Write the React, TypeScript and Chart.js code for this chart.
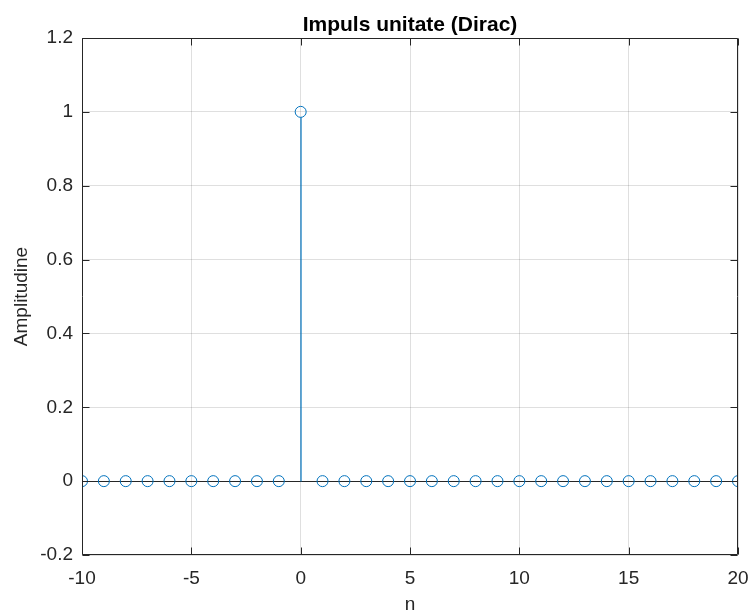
import React, { useEffect, useRef } from "react";
import { Chart, registerables } from "chart.js";

Chart.register(...registerables);

const nValues = [-10, -9, -8, -7, -6, -5, -4, -3, -2, -1, 0, 1, 2, 3, 4, 5, 6, 7, 8, 9, 10, 11, 12, 13, 14, 15, 16, 17, 18, 19, 20];
const amplitudes = [0, 0, 0, 0, 0, 0, 0, 0, 0, 0, 1, 0, 0, 0, 0, 0, 0, 0, 0, 0, 0, 0, 0, 0, 0, 0, 0, 0, 0, 0, 0];
const xTicks = [-10, -5, 0, 5, 10, 15, 20];
const yTicks = [-0.2, 0, 0.2, 0.4, 0.6, 0.8, 1, 1.2];
const titleText = "Impuls unitate (Dirac)";
const xLabel = "n";
const yLabel = "Amplitudine";

const AXIS = "#262626";
const BLUE = "#0072BD";
const FONT = "'Liberation Sans', Arial, Helvetica, sans-serif";

const stemPlugin = {
  id: "stemPlugin",
  beforeDatasetsDraw(chart: any) {
    const { ctx, chartArea, scales } = chart;
    const xs = scales.x;
    const ys = scales.y;
    const y0 = Math.round(ys.getPixelForValue(0)) + 0.5;
    ctx.save();
    ctx.strokeStyle = AXIS;
    ctx.lineWidth = 1;
    ctx.beginPath();
    ctx.moveTo(chartArea.left, y0);
    ctx.lineTo(chartArea.right, y0);
    ctx.stroke();
    ctx.restore();
  },
  afterDatasetsDraw(chart: any) {
    const { ctx, scales } = chart;
    const xs = scales.x;
    const ys = scales.y;
    const y0 = Math.round(ys.getPixelForValue(0)) + 0.5;
    ctx.save();
    ctx.strokeStyle = BLUE;
    ctx.lineWidth = 1.2;
    for (let i = 0; i < nValues.length; i++) {
      const v = amplitudes[i];
      if (v === 0) continue;
      const px = Math.round(xs.getPixelForValue(nValues[i]));
      const py = ys.getPixelForValue(v);
      const end = v > 0 ? py + 5.5 : py - 5.5;
      ctx.beginPath();
      ctx.moveTo(px, y0);
      ctx.lineTo(px, end);
      ctx.stroke();
    }
    ctx.restore();
  },
  afterDraw(chart: any) {
    const { ctx, chartArea, scales } = chart;
    const { left, right, top, bottom } = chartArea;
    const L = Math.round(left) + 0.5;
    const R = Math.round(right) - 0.5;
    const T = Math.round(top) + 0.5;
    const B = Math.round(bottom) - 0.5;
    ctx.save();
    ctx.strokeStyle = AXIS;
    ctx.lineWidth = 1;
    ctx.beginPath();
    ctx.rect(L, T, R - L, B - T);
    ctx.stroke();
    const tl = 7;
    ctx.beginPath();
    for (const t of xTicks) {
      const px = Math.round(scales.x.getPixelForValue(t)) + 0.5;
      ctx.moveTo(px, B);
      ctx.lineTo(px, B - tl);
      ctx.moveTo(px, T);
      ctx.lineTo(px, T + tl);
    }
    for (const t of yTicks) {
      const py = Math.round(scales.y.getPixelForValue(t)) + 0.5;
      ctx.moveTo(L, py);
      ctx.lineTo(L + tl, py);
      ctx.moveTo(R, py);
      ctx.lineTo(R - tl, py);
    }
    ctx.stroke();

    ctx.fillStyle = "#000000";
    ctx.font = `bold 21px ${FONT}`;
    ctx.textAlign = "center";
    ctx.textBaseline = "alphabetic";
    ctx.fillText(titleText, (left + right) / 2, 31);

    ctx.fillStyle = AXIS;
    ctx.font = `19px ${FONT}`;
    ctx.fillText(xLabel, (left + right) / 2, 610);

    ctx.translate(27, (top + bottom) / 2);
    ctx.rotate(-Math.PI / 2);
    ctx.fillText(yLabel, 0, 0);
    ctx.restore();
  },
};

export default function App() {
  const ref = useRef<HTMLCanvasElement | null>(null);
  useEffect(() => {
    if (!ref.current) return;
    const data = nValues.map((n, i) => ({ x: n, y: amplitudes[i] }));
    const chart = new Chart(ref.current, {
      type: "scatter",
      data: {
        datasets: [
          {
            data,
            showLine: false,
            pointRadius: 5.5,
            pointHoverRadius: 5.5,
            pointBorderWidth: 1,
            pointBorderColor: BLUE,
            pointBackgroundColor: "rgba(0,0,0,0)",
          },
        ],
      },
      options: {
        responsive: false,
        animation: false,
        events: [],
        layout: { padding: { top: 38, right: 11, left: 0, bottom: 0 } },
        plugins: { legend: { display: false }, tooltip: { enabled: false }, title: { display: false } },
        scales: {
          x: {
            type: "linear",
            min: -10,
            max: 20,
            afterBuildTicks(scale: any) {
              scale.ticks = xTicks.map((v) => ({ value: v }));
            },
            afterFit(scale: any) {
              scale.height = 57;
              scale.paddingLeft = 0;
              scale.paddingRight = 0;
            },
            grid: { color: "rgba(38,38,38,0.15)", drawTicks: false },
            border: { display: false },
            ticks: {
              padding: 12,
              color: AXIS,
              font: { family: FONT, size: 19 },
              maxRotation: 0,
              callback: (v: any) => String(v),
            },
          },
          y: {
            type: "linear",
            min: -0.2,
            max: 1.2,
            afterBuildTicks(scale: any) {
              scale.ticks = yTicks.map((v) => ({ value: v }));
            },
            afterFit(scale: any) {
              scale.width = 82;
              scale.paddingTop = 0;
              scale.paddingBottom = 0;
            },
            grid: { color: "rgba(38,38,38,0.15)", drawTicks: false },
            border: { display: false },
            ticks: {
              padding: 9,
              color: AXIS,
              font: { family: FONT, size: 19 },
              callback: (v: any) => String(Math.round(Number(v) * 10) / 10),
            },
          },
        },
      },
      plugins: [stemPlugin],
    });
    return () => chart.destroy();
  }, []);
  return (
    <div style={{ position: "absolute", left: 0, top: 0, width: 749, height: 612, background: "#fff" }}>
      <canvas ref={ref} width={749} height={612} style={{ display: "block" }} />
    </div>
  );
}
